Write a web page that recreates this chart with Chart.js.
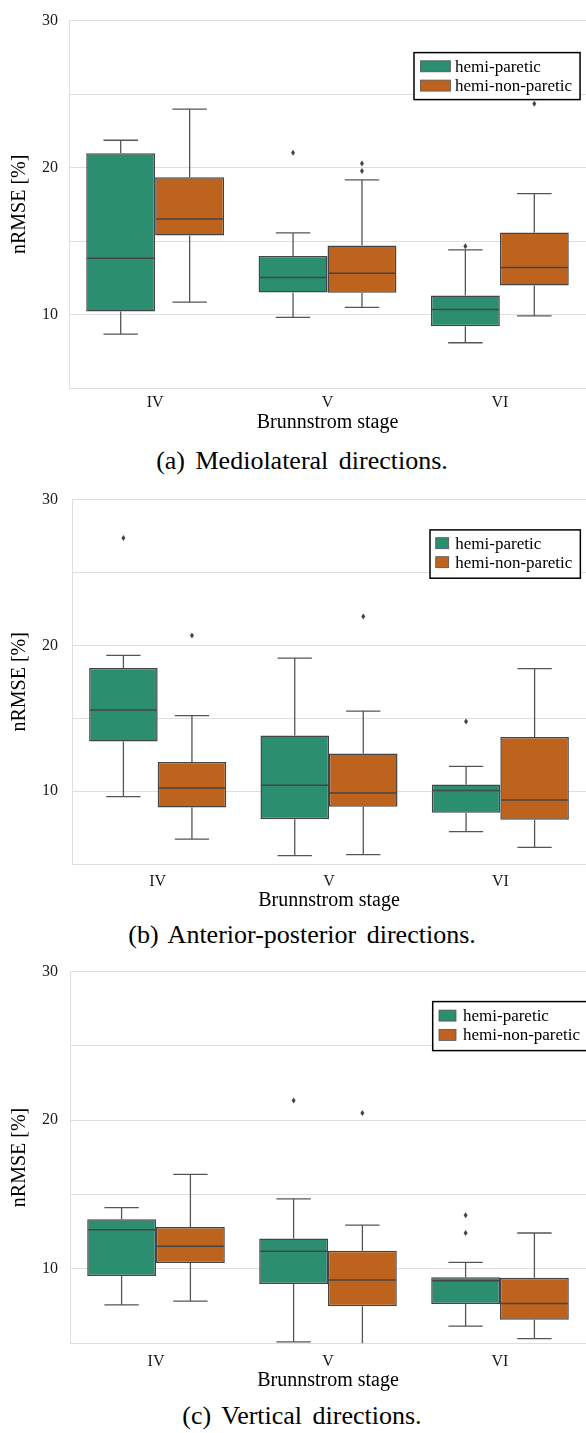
<!DOCTYPE html>
<html>
<head>
<meta charset="utf-8">
<script src="https://cdn.jsdelivr.net/npm/chart.js@4.4.1/dist/chart.umd.min.js"></script>
<style>
  body { margin: 0; background: #fff; }
  #page { position: relative; width: 586px; height: 1433px; overflow: hidden; background: #fff; }
  #page canvas { position: absolute; left: 0; }
  .caption {
    position: absolute; left: 0; width: 586px; padding-left: 18px; box-sizing: border-box;
    text-align: center; font-family: 'Liberation Serif', serif; font-size: 26px;
    line-height: 30px; word-spacing: 4px; color: #000;
  }
</style>
</head>
<body>
<div id="page">
  <canvas id="chartML" width="586" height="435" style="top:0px"></canvas>
  <div class="caption" style="top:446px">(a) Mediolateral directions.</div>
  <canvas id="chartAP" width="586" height="437" style="top:476px"></canvas>
  <div class="caption" style="top:920px">(b) Anterior-posterior directions.</div>
  <canvas id="chartVT" width="586" height="443" style="top:950px"></canvas>
  <div class="caption" style="top:1401px">(c) Vertical directions.</div>
</div>
<script>
const stages = ['IV', 'V', 'VI'];
const groups = ['hemi-paretic', 'hemi-non-paretic'];
const yLabelled = [10, 20, 30];   // grid every 5, labels only here

// each entry: [lower whisker, Q1, median, Q3, upper whisker] for IV, V, VI
const mlParetic    = [[8.67, 10.2, 13.83, 20.97, 21.86], [9.8, 11.5, 12.52, 13.98, 15.55], [8.08, 9.2, 10.35, 11.3, 14.4]];
const mlNonParetic = [[10.84, 15.38, 16.5, 19.34, 23.98], [10.49, 11.48, 12.8, 14.69, 19.16], [9.91, 11.97, 13.2, 15.58, 18.23]];
const mlPareticOut    = [[], [21.0], [14.65]];
const mlNonPareticOut = [[], [19.76, 20.27], [24.34]];

const apParetic    = [[9.62, 13.41, 15.57, 18.44, 19.31], [5.58, 8.07, 10.4, 13.81, 19.13], [7.22, 8.52, 10.04, 10.45, 11.7]];
const apNonParetic = [[6.7, 8.88, 10.22, 12.0, 15.18], [5.65, 8.92, 9.87, 12.58, 15.49], [6.14, 8.03, 9.39, 13.72, 18.4]];
const apPareticOut    = [[27.37], [], [14.78]];
const apNonPareticOut = [[20.67], [21.98], []];

const vtParetic    = [[7.58, 9.52, 12.64, 13.35, 14.12], [5.09, 8.99, 11.19, 12.05, 14.71], [6.15, 7.64, 9.21, 9.45, 10.44]];
const vtNonParetic = [[7.84, 10.4, 11.52, 12.82, 16.36], [4.8, 7.49, 9.25, 11.23, 12.95], [5.31, 6.59, 7.67, 9.41, 12.42]];
const vtPareticOut    = [[], [21.33], [12.42, 13.61]];
const vtNonPareticOut = [[], [20.49], []];

const green = '#2b8e70';
const orange = '#be631d';
const edge = '#454545';
const whisker = '#555555';
const gridGray = '#dedede';
const serif = "'Liberation Serif', serif";

// whiskers, caps, medians and fliers on top of the floating bars
const boxWhiskers = {
  id: 'boxWhiskers',
  afterDatasetsDraw(chart) {
    const {ctx, chartArea} = chart;
    const y = chart.scales.y;
    ctx.save();
    ctx.beginPath();
    ctx.rect(chartArea.left, chartArea.top, chartArea.right - chartArea.left, chartArea.bottom - chartArea.top);
    ctx.clip();
    chart.data.datasets.forEach((ds, di) => {
      chart.getDatasetMeta(di).data.forEach((bar, i) => {
        const [lo, q1, med, q3, hi] = ds.stats[i];
        const x = bar.x, half = bar.width / 2, cap = bar.width / 4;
        ctx.strokeStyle = whisker;
        ctx.lineWidth = 1.3;
        ctx.beginPath();
        ctx.moveTo(x, y.getPixelForValue(q3));
        ctx.lineTo(x, y.getPixelForValue(hi));
        ctx.moveTo(x, y.getPixelForValue(q1));
        ctx.lineTo(x, y.getPixelForValue(lo));
        ctx.moveTo(x - cap, y.getPixelForValue(hi));
        ctx.lineTo(x + cap, y.getPixelForValue(hi));
        ctx.moveTo(x - cap, y.getPixelForValue(lo));
        ctx.lineTo(x + cap, y.getPixelForValue(lo));
        ctx.stroke();
        ctx.strokeStyle = edge;
        ctx.lineWidth = 1.5;
        ctx.beginPath();
        ctx.moveTo(x - half + 1, y.getPixelForValue(med));
        ctx.lineTo(x + half - 1, y.getPixelForValue(med));
        ctx.stroke();
        ctx.fillStyle = edge;
        ds.outliers[i].forEach(v => {
          const py = y.getPixelForValue(v);
          ctx.beginPath();
          ctx.moveTo(x, py - 3);
          ctx.lineTo(x + 2, py);
          ctx.lineTo(x, py + 3);
          ctx.lineTo(x - 2, py);
          ctx.closePath();
          ctx.fill();
        });
      });
    });
    ctx.restore();
  }
};

// framed legend inside the plot, top right
const boxLegend = {
  id: 'boxLegend',
  afterDraw(chart, args, opts) {
    const {ctx, chartArea} = chart;
    ctx.save();
    ctx.font = '17px ' + serif;
    const items = chart.data.datasets;
    const textW = Math.max(...items.map(d => ctx.measureText(d.label).width));
    const x0 = opts.left, y0 = chartArea.top + opts.top;
    const w = opts.textOff + textW + 8, h = opts.height;
    ctx.fillStyle = '#fff';
    ctx.fillRect(x0, y0, w, h);
    ctx.strokeStyle = '#000';
    ctx.lineWidth = 1.5;
    ctx.strokeRect(x0, y0, w, h);
    items.forEach((d, i) => {
      const cy = y0 + opts.firstRow + i * opts.rowGap;
      ctx.fillStyle = d.backgroundColor;
      ctx.fillRect(x0 + opts.patchOff, cy - opts.patchH / 2, opts.patchW, opts.patchH);
      ctx.strokeStyle = '#555';
      ctx.lineWidth = 0.8;
      ctx.strokeRect(x0 + opts.patchOff, cy - opts.patchH / 2, opts.patchW, opts.patchH);
      ctx.fillStyle = '#000';
      ctx.textBaseline = 'middle';
      ctx.fillText(d.label, x0 + opts.textOff, cy + 1);
    });
    ctx.restore();
  }
};

function makeBoxChart(id, paretic, nonParetic, pareticOut, nonPareticOut, L) {
  const boxSet = (label, stats, outliers, color) => ({
    label: label,
    data: stats.map(s => [s[1], s[3]]),
    stats: stats,
    outliers: outliers,
    backgroundColor: color,
    borderColor: edge,
    borderWidth: 1.5,
    borderSkipped: false,
    categoryPercentage: 0.8,
    barPercentage: 1.0
  });
  return new Chart(document.getElementById(id), {
    type: 'bar',
    data: {
      labels: stages,
      datasets: [
        boxSet(groups[0], paretic, pareticOut, green),
        boxSet(groups[1], nonParetic, nonPareticOut, orange)
      ]
    },
    plugins: [boxWhiskers, boxLegend],
    options: {
      responsive: false,
      animation: false,
      devicePixelRatio: 1,
      layout: { padding: { top: L.padTop, left: 0, right: 0, bottom: 0 } },
      plugins: {
        legend: { display: false },
        tooltip: { enabled: false },
        boxLegend: L.legend
      },
      scales: {
        x: {
          offset: true,
          grid: { display: false, drawTicks: false },
          border: { display: true, color: gridGray, width: 1 },
          ticks: { padding: L.xTickPad, color: '#1a1a1a', font: { family: serif, size: 16 } },
          title: {
            display: true, text: 'Brunnstrom stage', color: '#000',
            font: { family: serif, size: 20 }, padding: { top: 0, bottom: 0 }
          },
          afterFit: s => { s.height = L.xH; }
        },
        y: {
          min: 5,
          max: 30,
          grid: { color: gridGray, lineWidth: 1, drawTicks: false },
          border: { display: true, color: gridGray, width: 1 },
          ticks: {
            stepSize: 5,
            padding: L.yTickPad,
            color: '#1a1a1a',
            font: { family: serif, size: 16 },
            callback: v => yLabelled.includes(v) ? v : ''
          },
          title: {
            display: true, text: 'nRMSE [%]', color: '#000',
            font: { family: serif, size: 20 }, padding: { top: 7.5, bottom: 0 }
          },
          afterFit: s => { s.width = L.left; }
        }
      }
    }
  });
}

makeBoxChart('chartML', mlParetic, mlNonParetic, mlPareticOut, mlNonPareticOut, {
  padTop: 11, xH: 47, xTickPad: 5.4, left: 69, yTickPad: 11,
  legend: { left: 414, top: 32, height: 47, patchOff: 6.4, patchW: 30, patchH: 11, textOff: 41, firstRow: 13.7, rowGap: 19.3 }
});
makeBoxChart('chartAP', apParetic, apNonParetic, apPareticOut, apNonPareticOut, {
  padTop: 14.7, xH: 49, xTickPad: 8.4, left: 72, yTickPad: 14,
  legend: { left: 430, top: 30.3, height: 48.3, patchOff: 5.7, patchW: 13, patchH: 11, textOff: 25.3, firstRow: 13.3, rowGap: 19 }
});
makeBoxChart('chartVT', vtParetic, vtNonParetic, vtPareticOut, vtNonPareticOut, {
  padTop: 15, xH: 49.7, xTickPad: 9.2, left: 70, yTickPad: 12,
  legend: { left: 432.7, top: 30, height: 49, patchOff: 6.3, patchW: 17, patchH: 11, textOff: 30.3, firstRow: 14, rowGap: 19.3 }
});
</script>
</body>
</html>
